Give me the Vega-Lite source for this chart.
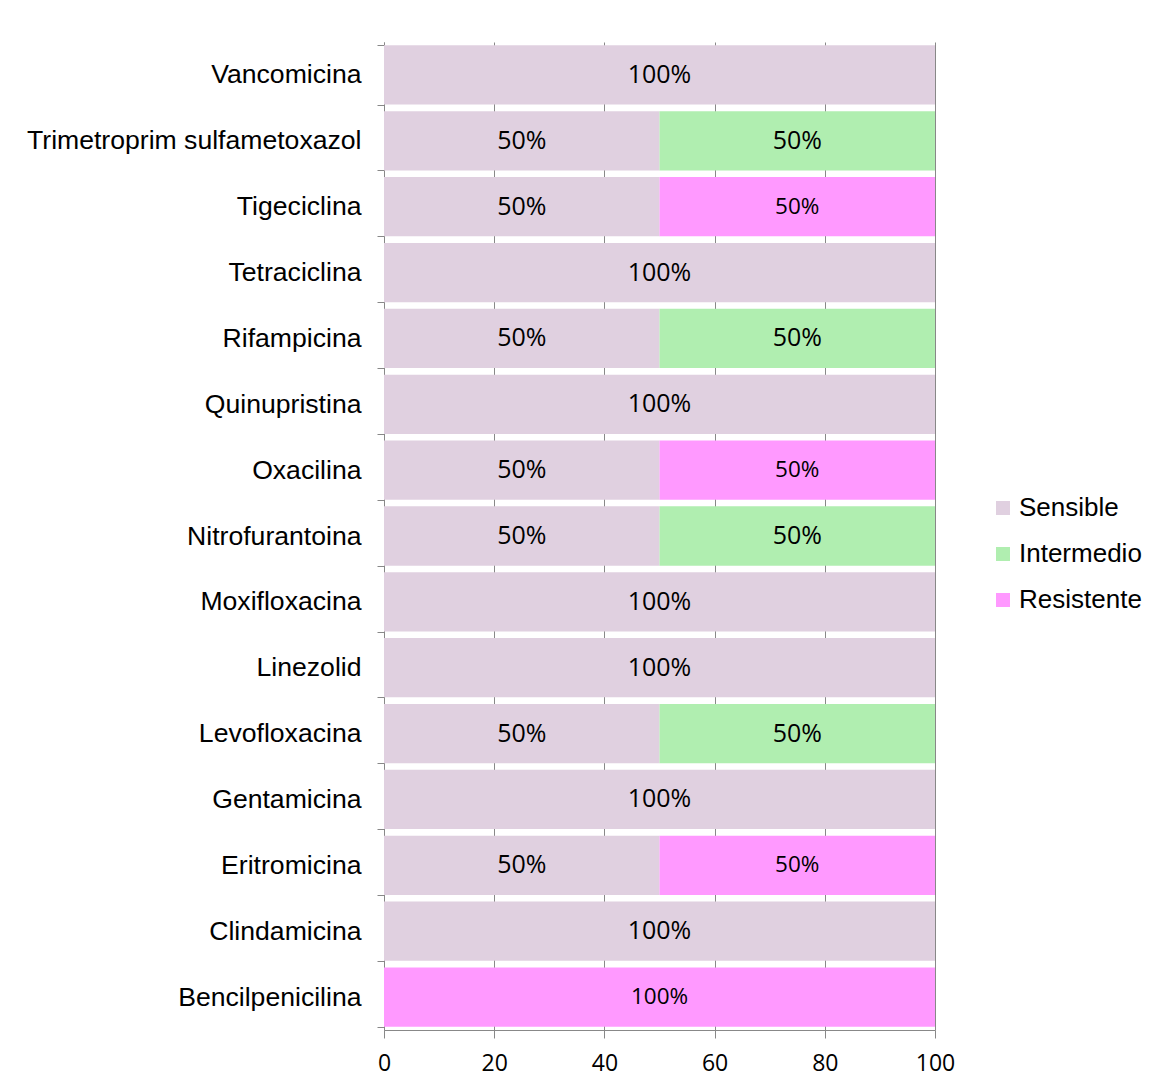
{
  "$schema": "https://vega.github.io/schema/vega-lite/v6.json",
  "autosize": "none",
  "padding": {"left": 384, "top": 42, "right": 222, "bottom": 59},
  "width": 551,
  "height": 988,
  "background": "white",
  "config": {"view": {"stroke": null}},
  "data": {"values": [
    {"drug": "Vancomicina", "cls": "Sensible", "k": 1, "v": 100, "label": "100%"},
    {"drug": "Trimetroprim sulfametoxazol", "cls": "Sensible", "k": 1, "v": 50, "label": "50%"},
    {"drug": "Trimetroprim sulfametoxazol", "cls": "Intermedio", "k": 2, "v": 50, "label": "50%"},
    {"drug": "Tigeciclina", "cls": "Sensible", "k": 1, "v": 50, "label": "50%"},
    {"drug": "Tigeciclina", "cls": "Resistente", "k": 3, "v": 50, "label": "50%"},
    {"drug": "Tetraciclina", "cls": "Sensible", "k": 1, "v": 100, "label": "100%"},
    {"drug": "Rifampicina", "cls": "Sensible", "k": 1, "v": 50, "label": "50%"},
    {"drug": "Rifampicina", "cls": "Intermedio", "k": 2, "v": 50, "label": "50%"},
    {"drug": "Quinupristina", "cls": "Sensible", "k": 1, "v": 100, "label": "100%"},
    {"drug": "Oxacilina ", "cls": "Sensible", "k": 1, "v": 50, "label": "50%"},
    {"drug": "Oxacilina ", "cls": "Resistente", "k": 3, "v": 50, "label": "50%"},
    {"drug": "Nitrofurantoina", "cls": "Sensible", "k": 1, "v": 50, "label": "50%"},
    {"drug": "Nitrofurantoina", "cls": "Intermedio", "k": 2, "v": 50, "label": "50%"},
    {"drug": "Moxifloxacina", "cls": "Sensible", "k": 1, "v": 100, "label": "100%"},
    {"drug": "Linezolid", "cls": "Sensible", "k": 1, "v": 100, "label": "100%"},
    {"drug": "Levofloxacina", "cls": "Sensible", "k": 1, "v": 50, "label": "50%"},
    {"drug": "Levofloxacina", "cls": "Intermedio", "k": 2, "v": 50, "label": "50%"},
    {"drug": "Gentamicina", "cls": "Sensible", "k": 1, "v": 100, "label": "100%"},
    {"drug": "Eritromicina", "cls": "Sensible", "k": 1, "v": 50, "label": "50%"},
    {"drug": "Eritromicina", "cls": "Resistente", "k": 3, "v": 50, "label": "50%"},
    {"drug": "Clindamicina", "cls": "Sensible", "k": 1, "v": 100, "label": "100%"},
    {"drug": "Bencilpenicilina", "cls": "Resistente", "k": 3, "v": 100, "label": "100%"}
  ]},
  "encoding": {
    "y": {
      "field": "drug", "type": "nominal", "sort": null,
      "scale": {"paddingInner": 0.1, "paddingOuter": 0.05},
      "axis": {
        "title": null, "tickBand": "extent", "tickSize": 7, "tickColor": "#888888",
        "domainColor": "#888888", "labelFont": "Liberation Sans", "labelFontSize": 26.6,
        "labelColor": "black", "labelPadding": 16, "labelLimit": 400
      }
    }
  },
  "layer": [
    {
      "mark": {"type": "bar"},
      "encoding": {
        "x": {
          "field": "v", "type": "quantitative", "stack": "zero",
          "scale": {"domain": [0, 100], "nice": false},
          "axis": {
            "title": null, "values": [0, 20, 40, 60, 80, 100], "grid": true,
            "gridColor": "#888888", "gridWidth": 1, "tickColor": "#888888", "tickSize": 8,
            "domainColor": "#888888", "labelFont": "Open Sans", "labelFontSize": 23,
            "labelColor": "black", "labelPadding": 14, "labelFlush": false
          }
        },
        "color": {
          "field": "cls", "type": "nominal",
          "scale": {"domain": ["Sensible", "Intermedio", "Resistente"], "range": ["#E0D0E0", "#B0EEB0", "#FF99FF"]},
          "legend": {
            "title": null, "orient": "none", "legendX": 606, "legendY": 453,
            "symbolType": "square", "symbolSize": 196, "symbolStrokeWidth": 0,
            "labelFont": "Liberation Sans", "labelFontSize": 26, "labelColor": "black",
            "labelOffset": 3, "rowPadding": 20
          }
        },
        "order": {"field": "k", "type": "quantitative"}
      }
    },
    {
      "mark": {"type": "text", "font": "Open Sans", "color": "black", "baseline": "middle", "align": "center"},
      "encoding": {
        "x": {"field": "v", "type": "quantitative", "stack": "zero", "bandPosition": 0.5},
        "text": {"field": "label"},
        "detail": {"field": "cls"},
        "order": {"field": "k", "type": "quantitative"},
        "size": {"condition": {"test": "datum.cls === 'Resistente'", "value": 22.5}, "value": 25}
      }
    }
  ]
}
